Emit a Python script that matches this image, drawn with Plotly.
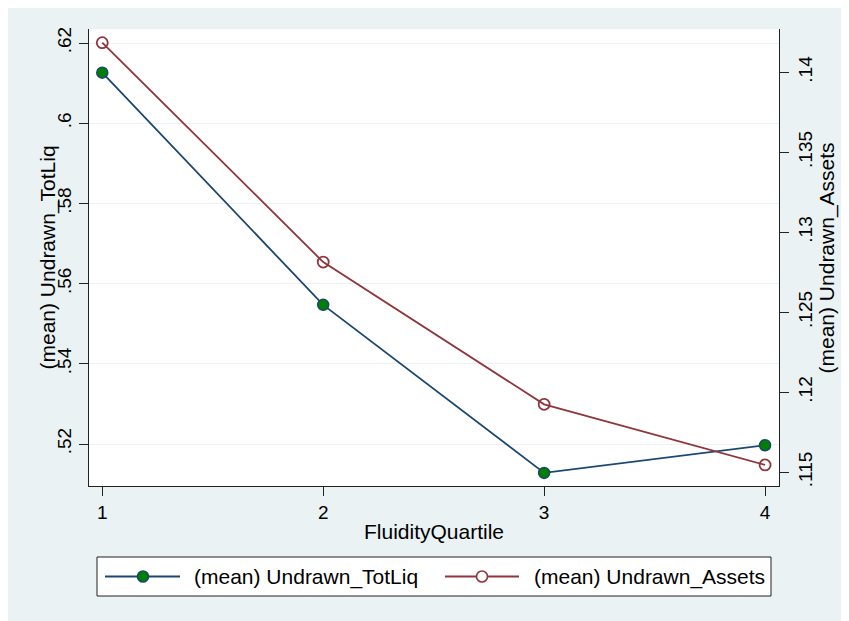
import plotly.graph_objects as go

# Data
quartiles = [1, 2, 3, 4]
undrawn_totliq = [0.6126, 0.5547, 0.5128, 0.5197]
undrawn_assets = [0.14185, 0.12814, 0.11925, 0.11546]

series_names = ["(mean) Undrawn_TotLiq", "(mean) Undrawn_Assets"]
x_title = "FluidityQuartile"

left_ticks = [0.52, 0.54, 0.56, 0.58, 0.60, 0.62]
left_labels = [".52", ".54", ".56", ".58", ".6", ".62"]
right_ticks = [0.115, 0.12, 0.125, 0.13, 0.135, 0.14]
right_labels = [".115", ".12", ".125", ".13", ".135", ".14"]
x_ticks = [1, 2, 3, 4]
x_labels = ["1", "2", "3", "4"]

W, H = 870, 640          # slightly larger than the window so the background reaches the edges
OFF = 8                  # page body margin (top/left)
ML, MT = 81, 21
PW, PH = 690, 457
MR = W - ML - PW
MB = H - MT - PH


def px(p):
    """screen pixel (page coords) -> paper x"""
    return (p - OFF - ML) / PW


def py(q):
    """screen pixel (page coords) -> paper y"""
    return (MT + PH - (q - OFF)) / PH


BG = "#EAF2F3"
NAVY = "#1A476F"
MAROON = "#90353B"
GREEN = "#008000"
AX = "#222222"
FONT = "Liberation Sans, Arial, sans-serif"
TICK_SIZE = 19
TITLE_SIZE = 21

fig = go.Figure()
fig.add_trace(go.Scatter(
    x=quartiles, y=undrawn_totliq, mode="lines+markers",
    name=series_names[0],
    line=dict(color=NAVY, width=1.8),
    marker=dict(symbol="circle", size=11, color=GREEN, line=dict(color=NAVY, width=1.5)),
    yaxis="y", showlegend=False,
))
fig.add_trace(go.Scatter(
    x=quartiles, y=undrawn_assets, mode="lines+markers",
    name=series_names[1],
    line=dict(color=MAROON, width=1.8),
    marker=dict(symbol="circle-open", size=11, color=MAROON, line=dict(color=MAROON, width=1.8)),
    yaxis="y2", showlegend=False,
))

axis_common = dict(
    showline=True, linecolor=AX, linewidth=1,
    ticks="outside", ticklen=9, tickwidth=1, tickcolor=AX,
    tickfont=dict(family=FONT, size=TICK_SIZE, color="#000000"),
    zeroline=False,
)

# Stata-style legend key: long line sample with the marker in the middle
box = dict(x0=97, x1=771, y0=557, y1=596)
yc = (box["y0"] + box["y1"]) / 2
keys = [
    dict(l0=105, l1=180, m=143, t=192, color=NAVY, fill=GREEN, mline=NAVY),
    dict(l0=445, l1=519, m=482, t=532, color=MAROON, fill="white", mline=MAROON),
]
shapes = [
    dict(type="rect", xref="paper", yref="paper",
         x0=px(box["x0"]), x1=px(box["x1"]), y0=py(box["y1"]), y1=py(box["y0"]),
         fillcolor="white", line=dict(color=AX, width=1), layer="above"),
]
annotations = []
for k, name in zip(keys, series_names):
    shapes.append(dict(type="line", xref="paper", yref="paper",
                       x0=px(k["l0"]), x1=px(k["l1"]), y0=py(yc), y1=py(yc),
                       line=dict(color=k["color"], width=1.8), layer="above"))
    shapes.append(dict(type="circle", xref="paper", yref="paper",
                       xsizemode="pixel", ysizemode="pixel",
                       xanchor=px(k["m"]), yanchor=py(yc),
                       x0=-5.5, x1=5.5, y0=-5.5, y1=5.5,
                       fillcolor=k["fill"], line=dict(color=k["mline"], width=1.6), layer="above"))
    annotations.append(dict(xref="paper", yref="paper", x=px(k["t"]), y=py(yc),
                            xanchor="left", yanchor="middle", showarrow=False,
                            text=name, font=dict(family=FONT, size=TITLE_SIZE, color="#000000")))

# Y axis titles (placed like Stata, hugging the tick labels)
annotations.append(dict(xref="paper", yref="paper", x=px(47), y=0.5, textangle=-90,
                        xanchor="center", yanchor="middle", showarrow=False,
                        text=series_names[0], font=dict(family=FONT, size=TITLE_SIZE, color="#000000")))
annotations.append(dict(xref="paper", yref="paper", x=px(826), y=0.5, textangle=-90,
                        xanchor="center", yanchor="middle", showarrow=False,
                        text=series_names[1], font=dict(family=FONT, size=TITLE_SIZE, color="#000000")))

fig.update_layout(
    width=W, height=H,
    margin=dict(l=ML, r=MR, t=MT, b=MB, pad=0),
    paper_bgcolor=BG, plot_bgcolor="white",
    font=dict(family=FONT, size=TICK_SIZE, color="#000000"),
    showlegend=False,
    xaxis=dict(
        range=[0.94, 4.063], tickvals=x_ticks, ticktext=x_labels,
        showgrid=False,
        title=dict(text=x_title, font=dict(family=FONT, size=TITLE_SIZE), standoff=2),
        **axis_common,
    ),
    yaxis=dict(
        range=[0.50953, 0.62349], tickvals=left_ticks, ticktext=left_labels,
        tickangle=-90, showgrid=True, gridcolor=BG, gridwidth=1.2,
        **axis_common,
    ),
    yaxis2=dict(
        range=[0.114144, 0.142706], tickvals=right_ticks, ticktext=right_labels,
        tickangle=-90, showgrid=False, overlaying="y", side="right",
        **axis_common,
    ),
    shapes=shapes,
    annotations=annotations,
)

post = (
    "document.documentElement.style.overflow='hidden';"
    "document.body.style.overflow='hidden';"
)
fig.write_html("out.html", post_script=post)
